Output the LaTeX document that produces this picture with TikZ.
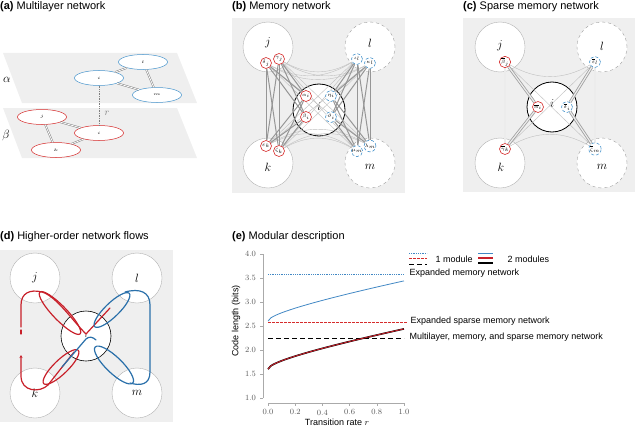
\documentclass[tikz,border=0pt]{standalone}
\usepackage{fontspec}
\setsansfont{Liberation Sans}
\usepackage{tikz}
\usetikzlibrary{shapes.geometric, arrows.meta}
\definecolor{memred}{RGB}{200, 32, 42}
\definecolor{memblue}{RGB}{42, 112, 170}
\definecolor{statered}{RGB}{214, 44, 44}
\definecolor{stateblue}{RGB}{74, 150, 205}
\definecolor{plotblue}{RGB}{66, 136, 196}
\definecolor{panelgray}{RGB}{239, 239, 239}
\definecolor{linkgray}{RGB}{150, 150, 150}
\definecolor{axisgray}{RGB}{170, 170, 170}
\pgfdeclarelayer{back}
\pgfdeclarelayer{links}
\pgfsetlayers{back,links,main}

\begin{document}
\begin{tikzpicture}[x=1pt, y=1pt,
    paneltitle/.style={anchor=base west, inner sep=0pt, font=\sffamily\fontsize{11}{13}\selectfont},
    phys/.style={circle, draw=gray!60, fill=white, minimum size=50pt, inner sep=0pt, font=\large},
    ghost/.style={phys, draw=gray!75, dashed},
    hub/.style={circle, draw=black, line width=0.8pt, fill=white, minimum size=52pt, inner sep=0pt, font=\large},
    letter/.style={inner sep=0pt, font=\large},
    redstate/.style={circle, draw=statered, line width=0.6pt, fill=white, minimum size=11pt, inner sep=0pt, font=\tiny},
    bluestate/.style={redstate, draw=stateblue, densely dashed},
    layernode/.style={ellipse, line width=0.5pt, fill=white, minimum width=49pt, minimum height=15pt, inner sep=0pt, font=\tiny},
    memlink/.style={draw=linkgray, line width=1pt},
    thinlink/.style={draw=gray!50, line width=0.4pt},
    duallink/.style={draw=gray, double=white, double distance=0.8pt, line width=0.5pt},
    sparselink/.style={draw=gray!75, double=gray!15, double distance=1.2pt, line width=0.8pt},
    flow/.style={line width=1.2pt, line cap=round},
    legendtext/.style={anchor=west, font=\sffamily\fontsize{9}{10}\selectfont}
]
\useasboundingbox (0,0) rectangle (637,-428);

% (a) Multilayer network
\node[paneltitle] (atitle) at (0,-9.5) {\textbf{(a)} Multilayer network};
\fill[panelgray] (3,-53) -- (177,-53) -- (197,-103) -- (22,-103) -- cycle;
\fill[panelgray] (3,-108) -- (177,-108) -- (197,-158) -- (22,-158) -- cycle;
\node[font=\large] (alphalabel) at (7,-80) {$\alpha$};
\node[font=\large] (betalabel) at (6,-135) {$\beta$};
\node[layernode, draw=stateblue] (ui) at (99,-78) {\scalebox{1.2}[0.7]{$i$}};
\node[layernode, draw=stateblue] (ul) at (143,-62) {\scalebox{1.2}[0.7]{$l$}};
\node[layernode, draw=stateblue] (um) at (157,-95) {\scalebox{1.2}[0.7]{$m$}};
\node[layernode, draw=statered] (lj) at (42,-117) {\scalebox{1.2}[0.7]{$j$}};
\node[layernode, draw=statered] (lk) at (56,-150) {\scalebox{1.2}[0.7]{$k$}};
\node[layernode, draw=statered] (li) at (99,-133) {\scalebox{1.2}[0.7]{$i$}};
\draw[duallink] (ui) -- (ul);
\draw[duallink] (ui) -- (um);
\draw[duallink] (ul) -- (um);
\draw[duallink] (lj) -- (li);
\draw[duallink] (lj) -- (lk);
\draw[duallink] (lk) -- (li);
\draw[gray, densely dotted, line width=0.7pt] (ui) -- node[pos=0.7, right=2pt] {$r$} (li);

% (b) Memory network
\node[paneltitle] (btitle) at (232,-9.5) {\textbf{(b)} Memory network};
\begin{pgfonlayer}{back}
  \fill[panelgray] (232,-18) rectangle (405,-193);
  \node[phys] (bj) at (268,-47) {};
  \node[ghost] (bl) at (370,-47) {};
  \node[phys] (bk) at (268,-163) {};
  \node[ghost] (bm) at (370,-163) {};
  \node[hub] (bi) at (319,-110) {};
  \node[letter] (bjname) at (268,-43) {$j$};
  \node[letter] (blname) at (370,-43) {$l$};
  \node[letter] (bkname) at (268,-167) {$k$};
  \node[letter] (bmname) at (370,-167) {$m$};
  \node[letter] (biname) at (319,-107) {$i$};
\end{pgfonlayer}
\node[redstate] (bdj) at (266,-63) {$\delta_j$};
\node[redstate] (bgj) at (279,-59) {$\gamma_j$};
\node[redstate] (bek) at (266,-146) {$\varepsilon_k$};
\node[redstate] (bzk) at (279,-151) {$\zeta_k$};
\node[redstate] (bai) at (306,-96) {$\alpha_i$};
\node[redstate] (bbi) at (306,-117) {$\beta_i$};
\node[bluestate] (bhi) at (331,-96) {$\eta_i$};
\node[bluestate] (bti) at (331,-117) {$\vartheta_i$};
\node[bluestate] (bil) at (357,-59) {$\iota_l$};
\node[bluestate] (bkl) at (370,-63) {$\kappa_l$};
\node[bluestate] (bmm) at (357,-151) {$\mu_m$};
\node[bluestate] (blm) at (370,-146) {$\lambda_m$};
\begin{pgfonlayer}{links}
  \foreach \src in {bdj,bgj} {\foreach \dst in {bil,bkl} {\draw[thinlink] (\src) to[bend right=30] (\dst);}}
  \foreach \src in {bek,bzk} {\foreach \dst in {bmm,blm} {\draw[thinlink] (\src) to[bend left=30] (\dst);}}
  \foreach \src in {bdj,bgj} {\foreach \dst in {bmm,blm} {\draw[thinlink] (\src) -- (\dst);}}
  \foreach \src in {bek,bzk} {\foreach \dst in {bil,bkl} {\draw[thinlink] (\src) -- (\dst);}}
  \foreach \src in {bdj,bgj} {\foreach \dst in {bek,bzk,bai,bbi} {\draw[memlink] (\src) -- (\dst);}}
  \foreach \src in {bek,bzk} {\foreach \dst in {bai,bbi} {\draw[memlink] (\src) -- (\dst);}}
  \foreach \src in {bil,bkl} {\foreach \dst in {bmm,blm,bhi,bti} {\draw[memlink] (\src) -- (\dst);}}
  \foreach \src in {bmm,blm} {\foreach \dst in {bhi,bti} {\draw[memlink] (\src) -- (\dst);}}
\end{pgfonlayer}

% (c) Sparse memory network
\node[paneltitle] (ctitle) at (463,-9.5) {\textbf{(c)} Sparse memory network};
\begin{pgfonlayer}{back}
  \fill[panelgray] (463,-18) rectangle (635,-192);
  \node[phys] (cj) at (500,-47) {};
  \node[ghost] (cl) at (602,-47) {};
  \node[phys] (ck) at (500,-163) {};
  \node[ghost] (cm) at (602,-163) {};
  \node[hub, minimum size=50pt] (ci) at (552,-107) {};
  \node[letter] (cjname) at (500,-46) {$j$};
  \node[letter] (clname) at (602,-46) {$l$};
  \node[letter] (ckname) at (501,-167) {$k$};
  \node[letter] (cmname) at (602,-167) {$m$};
  \node[letter] (ciname) at (552,-104) {$i$};
\end{pgfonlayer}
\node[redstate] (cbj) at (505,-62) {$\overline{\beta}_j$};
\node[redstate] (cgk) at (505,-149) {$\overline{\gamma}_k$};
\node[redstate] (cai) at (538,-107) {$\overline{\alpha}_i$};
\node[bluestate] (cdi) at (567,-107) {$\overline{\delta}_i$};
\node[bluestate] (cel) at (595,-62) {$\overline{\varepsilon}_l$};
\node[bluestate] (czm) at (595,-149) {$\overline{\zeta}_m$};
\begin{pgfonlayer}{links}
  \draw[thinlink] (cbj) to[bend right=30] (cel);
  \draw[thinlink] (cgk) to[bend left=30] (czm);
  \draw[thinlink] (cbj) -- (czm);
  \draw[thinlink] (cel) -- (cgk);
  \draw[sparselink] (cbj) -- (cgk);
  \draw[sparselink] (cbj) -- (cai);
  \draw[sparselink] (cgk) -- (cai);
  \draw[sparselink] (cel) -- (czm);
  \draw[sparselink] (cel) -- (cdi);
  \draw[sparselink] (czm) -- (cdi);
\end{pgfonlayer}

% (d) Higher-order network flows
\node[paneltitle] (dtitle) at (0,-239) {\textbf{(d)} Higher-order network flows};
\fill[panelgray] (0,-250) rectangle (173,-422);
\node[phys] (dj) at (35,-278) {$j$};
\node[phys] (dl) at (137,-278) {$l$};
\node[phys] (dk) at (35,-393) {$k$};
\node[phys] (dm) at (137,-393) {$m$};
\node[hub, line width=0.6pt, minimum size=50pt, font=\tiny] (di) at (86,-336) {$i$};
% red flows
\draw[flow, memred, rotate around={-46:(60,-313)}] (60,-313) ellipse (29 and 7);
\draw[flow, memred] (21,-327) -- (21,-305) .. controls (21,-293) and (30,-289) .. (42,-292) .. controls (56,-296) and (72,-320) .. (86,-334) -- (110,-308);
\draw[flow, memred] (21,-330) -- (21,-334);
\draw[flow, memred, rotate around={44:(61,-367)}] (61,-367) ellipse (24 and 7);
\draw[flow, memred, -{Stealth[length=3pt, width=3pt]}] (74,-352) -- (48,-385) .. controls (40,-393) and (21,-392) .. (21,-376) -- (21,-355);
% blue flows
\draw[flow, memblue] (62,-367) -- (86,-339) .. controls (89,-336) and (93,-337) .. (96,-340);
\draw[flow, memblue, rotate around={44:(112,-310)}] (112,-310) ellipse (24 and 7);
\draw[flow, memblue, rotate around={-44:(114,-365)}] (114,-365) ellipse (26 and 8);
\draw[flow, memblue] (125,-292) .. controls (140,-288) and (150,-292) .. (150,-305) -- (150,-372) .. controls (150,-385) and (140,-386) .. (130,-383);

% (e) Modular description
\node[paneltitle] (etitle) at (232,-239.5) {\textbf{(e)} Modular description};
\begin{scope}[shift={(268,-446)}, x=136pt, y=48pt]
  \draw[axisgray, line width=0.6pt] (-0.037,1) -- (-0.037,4);
  \foreach \v in {1.0,1.5,2.0,2.5,3.0,3.5,4.0}
    \draw[axisgray, line width=0.6pt] (-0.037,\v) -- (-0.062,\v) node[left, text=gray!70!black, font=\fontsize{8}{9}\selectfont] {\v};
  \draw[axisgray, line width=0.6pt] (0,0.896) -- (1,0.896);
  \foreach \r in {0.0,0.2,0.4,0.6,0.8,1.0}
    \draw[axisgray, line width=0.6pt] (\r,0.896) -- (\r,0.834) node[below, text=gray!70!black, font=\fontsize{8}{9}\selectfont] {\r};
  \draw[plotblue, densely dotted, line width=0.8pt] (0,3.58) -- (1,3.58);
  \draw[plotblue, line width=0.8pt] plot[domain=0:1, samples=50] (\x, {2.6+0.84*(0.5*sqrt(\x)+0.5*\x)});
  \draw[statered, dash pattern=on 2.5pt off 1.5pt, line width=0.8pt] (0,2.58) -- (1.02,2.58);
  \draw[black, dash pattern=on 5pt off 3pt, line width=0.8pt] (0,2.25) -- (1,2.25);
  \draw[black, line width=1.6pt] plot[domain=0:1, samples=50] (\x, {1.6+0.84*(0.5*sqrt(\x)+0.5*\x)});
  \draw[memred, line width=0.9pt] plot[domain=0:1, samples=50] (\x, {1.6+0.84*(0.5*sqrt(\x)+0.5*\x)});
\end{scope}
\node[rotate=90, font=\sffamily\fontsize{9}{10}\selectfont] (ylabel) at (236,-321) {Code length (bits)};
\node[font=\sffamily\fontsize{9}{10}\selectfont] (xlabel) at (337,-422) {Transition rate $r$};
% legend
\draw[plotblue, densely dotted, line width=0.8pt] (409,-253) -- (427,-253);
\draw[statered, dash pattern=on 2.5pt off 1.5pt, line width=0.8pt] (409,-258) -- (427,-258);
\draw[black, dash pattern=on 5pt off 3pt, line width=0.8pt] (409,-264) -- (427,-264);
\node[legendtext] (onemod) at (432,-259) {1 module};
\draw[plotblue, line width=0.8pt] (478,-253) -- (493,-253);
\draw[memred, line width=1.5pt] (478,-258) -- (493,-258);
\draw[black, line width=1.5pt] (478,-263) -- (493,-263);
\node[legendtext] (twomod) at (504,-259) {2 modules};
\node[legendtext] (expmem) at (406,-273) {Expanded memory network};
\node[legendtext] (expsparse) at (407,-321) {Expanded sparse memory network};
\node[legendtext] (multilabel) at (406,-337) {Multilayer, memory, and sparse memory network};
\end{tikzpicture}
\end{document}
